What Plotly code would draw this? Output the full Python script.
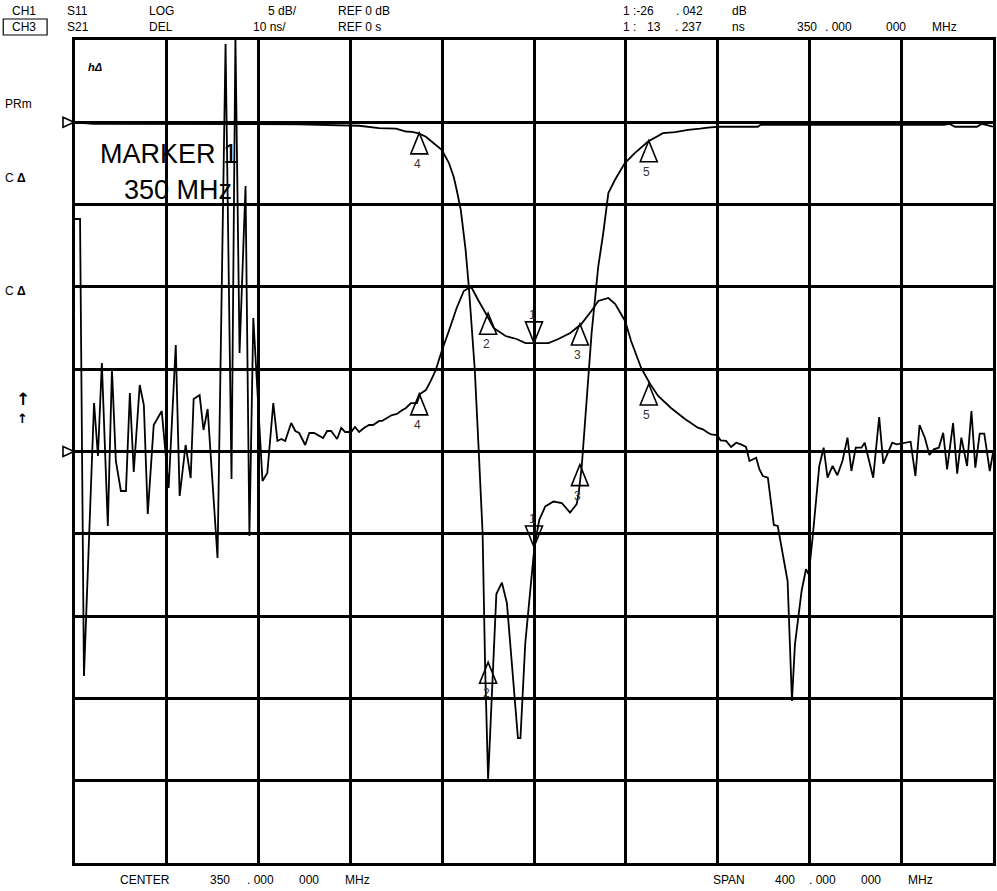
import plotly.graph_objects as go

# ---------------- layout constants ----------------
FIG_W, FIG_H = 997, 891
M_L, M_R, M_T, M_B = 75, 1, 40, 28
PW = FIG_W - M_L - M_R
PH = FIG_H - M_T - M_B
FONT = "Liberation Sans, Arial, sans-serif"

# ---------------- axes (instrument settings) ----------------
F_START, F_STOP = 150, 550          # CENTER 350 MHz, SPAN 400 MHz
F_DIV = 40
S11_RANGE = [-45, 5]                # 5 dB/div, REF 0 dB
S11_DIV = 5
DELAY_RANGE = [-50, 50]             # 10 ns/div, REF 0 s

# ---------------- CH1: S11 log magnitude (dB) ----------------
S11_FREQ = [150.0, 157.8, 247.7, 273.8, 282.5, 289.9, 294.2, 296.8, 299.8, 302.9,
            305.5, 309.8, 312.9, 315.0, 316.3, 318.1, 319.4, 320.2, 321.6, 324.2,
            325.9, 327.6, 328.7, 330.0, 333.6, 336.0, 338.2, 343.0, 344.1, 346.2,
            350.2, 352.3, 354.9, 358.5, 362.1, 365.7, 368.6, 369.5, 370.8, 375.1,
            378.0, 380.2, 382.4, 385.3, 389.6, 393.9, 399.7, 406.2, 411.5, 417.1,
            422.3, 425.8, 430.1, 447.5, 448.8, 528.7, 530.9, 533.5, 543.0, 545.2,
            550.0]
S11_DB = [0.00, -0.09, -0.12, -0.21, -0.35, -0.39, -0.56, -0.58, -0.67, -0.88,
          -1.18, -1.67, -2.46, -3.31, -4.10, -5.32, -6.83, -7.75, -9.99, -15.04,
          -19.90, -24.94, -33.08, -39.94, -28.66, -27.96, -29.21, -37.41, -37.41, -31.64,
          -25.77, -24.15, -23.34, -23.04, -23.13, -23.71, -23.20, -22.50, -20.91, -12.81,
          -8.76, -6.71, -4.30, -3.49, -2.48, -1.87, -1.17, -0.66, -0.60, -0.46,
          -0.39, -0.32, -0.27, -0.27, -0.15, -0.15, -0.09, -0.27, -0.27, -0.09,
          -0.27]

# ---------------- CH3: S21 group delay (ns) ----------------
S21_FREQ = [150.0, 152.2, 153.9, 158.3, 160.0, 161.7, 164.3, 166.1, 167.8, 170.0,
            172.2, 173.9, 175.6, 178.2, 180.0, 181.7, 184.3, 187.8, 190.8, 193.9,
            195.6, 198.2, 200.4, 201.7, 204.3, 206.0, 207.8, 212.1, 215.6, 218.2,
            219.9, 221.7, 224.3, 226.0, 227.7, 231.7, 233.8, 236.4, 238.2, 239.9,
            241.6, 244.2, 246.0, 247.7, 250.3, 252.1, 254.2, 258.1, 259.9, 261.6,
            264.2, 266.0, 267.7, 270.3, 272.0, 273.8, 275.9, 278.1, 279.9, 282.5,
            283.8, 285.9, 288.1, 290.3, 292.0, 294.2, 296.4, 299.0, 300.3, 302.9,
            305.0, 307.2, 309.8, 312.9, 316.3, 319.4, 321.6, 322.9, 325.9, 328.9,
            332.4, 337.6, 342.4, 346.3, 350.6, 356.3, 360.6, 365.8, 370.6, 375.0,
            378.0, 382.4, 385.4, 389.7, 392.3, 396.7, 400.6, 404.1, 409.7, 415.8,
            421.4, 423.6, 425.8, 427.2, 429.8, 431.3, 433.7, 435.9, 438.1, 440.2,
            442.4, 443.9, 446.8, 448.2, 449.7, 451.9, 454.5, 456.2, 460.5, 462.4,
            463.7, 466.6, 468.5, 469.7, 471.4, 474.3, 476.2, 477.9, 480.1, 482.2,
            484.4, 486.6, 488.3, 490.2, 492.7, 494.1, 497.8, 500.4, 502.2, 506.1,
            508.0, 514.1, 516.2, 518.0, 520.3, 522.3, 524.2, 526.4, 528.3, 530.0,
            532.6, 534.4, 536.2, 538.7, 540.6, 542.3, 544.2, 546.2, 548.6, 550.0]
S21_DELAY_NS = [28.25, 28.25, -27.28, 5.89, -0.55, 10.75, -9.05, 10.02, -1.15, -4.80,
                -4.80, 7.11, -2.49, 8.08, 5.65, -7.59, 3.22, 4.92, -4.43, 12.94,
                -5.41, 0.79, -3.22, 6.38, 6.86, 2.61, 5.16, -12.94, 49.51, -3.34,
                50.49, 11.97, 32.26, -10.27, 16.22, -3.58, -2.61, 5.89, 1.28, 1.52,
                1.28, 3.46, 2.49, 2.25, 0.79, 2.25, 2.25, 1.64, 2.49, 2.49,
                1.52, 2.86, 2.37, 2.37, 2.98, 2.37, 2.86, 3.22, 3.22, 3.71,
                3.71, 4.07, 4.43, 4.56, 4.92, 5.29, 5.89, 5.89, 6.99, 7.47,
                8.57, 9.90, 12.21, 14.64, 17.44, 19.50, 19.87, 19.87, 18.29, 16.83,
                15.01, 14.03, 13.67, 13.18, 13.18, 13.18, 13.67, 14.40, 15.49, 17.07,
                18.29, 18.65, 17.92, 15.86, 13.43, 10.15, 8.20, 6.74, 5.29, 3.95,
                2.89, 2.70, 2.28, 2.09, 2.00, 1.36, 1.28, 0.55, 1.07, 0.87,
                0.55, -1.15, -0.75, -2.16, -2.98, -3.18, -8.93, -9.05, -15.74, -30.32,
                -23.43, -16.95, -14.31, -14.92, -10.47, -1.76, 0.46, -3.18, -1.76, -2.89,
                -1.15, 1.68, -2.37, 0.46, 0.46, 1.07, -3.18, 4.19, -1.48, 1.07,
                0.87, 1.19, -2.98, 3.22, 1.68, -0.43, 0.27, 0.46, 2.28, -2.16,
                3.46, -2.70, 1.68, -1.76, 4.92, -1.97, 2.16, 2.16, -2.37, -0.15]

# ---------------- markers ----------------
MARKER_NUM = ["1", "2", "3", "4", "5"]
MARKER_FREQ = [350, 330, 370, 300, 400]
MARKER_S11_DB = [-25.8, -32.8, -20.8, -0.64, -1.12]
MARKER_DELAY_NS = [13.2, 16.8, 15.5, 7.0, 8.2]
MARKER_ACTIVE = [True, False, False, False, False]   # active marker drawn inverted

# ---------------- annotation text ----------------
HEADER_ROW1 = [("CH1", 10), ("S11", 65), ("LOG", 147), ("5 dB/", 267), ("REF 0 dB", 337),
               ("1 :-26", 623), (". 042", 676), ("dB", 732)]
HEADER_ROW2 = [("CH3", 10), ("S21", 65), ("DEL", 147), ("10 ns/", 252), ("REF 0 s", 337),
               ("1 :", 623), ("13", 647), (". 237", 675), ("ns", 732),
               ("350", 797), (". 000", 825), ("000", 887), ("MHz", 933)]
FOOTER = [("CENTER", 118), ("350", 208), (". 000", 246), ("000", 298), ("MHz", 344),
          ("SPAN", 713), ("400", 775), (". 000", 809), ("000", 862), ("MHz", 909)]


def cx(px):
    return (px - M_L) / PW


def cy(py):
    return (FIG_H - M_B - py) / PH


fig = go.Figure()
fig.add_trace(go.Scatter(x=S11_FREQ, y=S11_DB, mode="lines", yaxis="y",
                         line=dict(color="black", width=1.8, simplify=False),
                         hoverinfo="skip", showlegend=False))
fig.add_trace(go.Scatter(x=S21_FREQ, y=S21_DELAY_NS, mode="lines", yaxis="y2",
                         line=dict(color="black", width=1.8, simplify=False),
                         hoverinfo="skip", showlegend=False))

shapes = []
annotations = []

TRI_HW, TRI_H = 8.5, 21
for num, f, s11, dly, active in zip(MARKER_NUM, MARKER_FREQ, MARKER_S11_DB,
                                    MARKER_DELAY_NS, MARKER_ACTIVE):
    for yref, val in (("y", s11), ("y2", dly)):
        h = TRI_H if active else -TRI_H
        shapes.append(dict(type="path", xref="x", yref=yref,
                           xsizemode="pixel", ysizemode="pixel",
                           xanchor=f, yanchor=val,
                           path=f"M 0,0 L {-TRI_HW},{h} L {TRI_HW},{h} Z",
                           line=dict(color="black", width=1.6)))
        annotations.append(dict(x=f, y=val, xref="x", yref=yref, text=num,
                                showarrow=False, xshift=-2,
                                yshift=(28 if active else -31),
                                font=dict(family=FONT, size=12, color="#333333")))

# reference position triangles at left edge
for yref in ("y", "y2"):
    shapes.append(dict(type="path", xref="paper", yref=yref,
                       xsizemode="pixel", ysizemode="pixel",
                       xanchor=0, yanchor=0,
                       path="M -1,0 L -12,5 L -12,-5 Z",
                       line=dict(color="black", width=1.6)))

# CH3 box
shapes.append(dict(type="rect", xref="paper", yref="paper",
                   x0=cx(3), x1=cx(47), y0=cy(35), y1=cy(19),
                   line=dict(color="black", width=1.2)))


def txt(text, px, py, size=12, **kw):
    d = dict(x=cx(px), y=cy(py), xref="paper", yref="paper", text=text,
             showarrow=False, xanchor="left", yanchor="middle",
             font=dict(family=FONT, size=size, color="black"))
    d.update(kw)
    annotations.append(d)


for t, x in HEADER_ROW1:
    txt(t, x, 11)
for t, x in HEADER_ROW2:
    txt(t, x, 27)
for t, x in FOOTER:
    txt(t, x, 880)

txt("PRm", 3, 104)
txt("C <b>Δ</b>", 3, 178)
txt("C <b>Δ</b>", 3, 291)
txt("<b>↑</b>", 14, 399, size=17, font=dict(family="DejaVu Sans", size=17, color="black"))
txt("<b>↑</b>", 15, 418, size=13, font=dict(family="DejaVu Sans", size=13, color="black"))
txt("<b><i>hΔ</i></b>", 86, 67, size=11)
txt("MARKER 1", 98, 154, size=27)
txt("350 MHz", 122, 190, size=27)

axis_style = dict(showgrid=True, gridcolor="black", gridwidth=3,
                  showline=True, linecolor="black", linewidth=3, mirror=True,
                  zeroline=False, showticklabels=False, ticks="")

fig.update_layout(
    width=FIG_W, height=FIG_H,
    margin=dict(l=M_L, r=M_R, t=M_T, b=M_B, pad=0),
    paper_bgcolor="white", plot_bgcolor="white",
    showlegend=False,
    xaxis=dict(range=[F_START, F_STOP], tick0=F_START, dtick=F_DIV, **axis_style),
    yaxis=dict(range=S11_RANGE, tick0=0, dtick=S11_DIV, **axis_style),
    yaxis2=dict(range=DELAY_RANGE, overlaying="y", visible=False),
    shapes=shapes,
    annotations=annotations,
)

fig.write_html("out.html",
               config={"displayModeBar": False, "staticPlot": True},
               post_script="document.body.style.margin='0';"
                           "document.body.style.overflow='hidden';")
